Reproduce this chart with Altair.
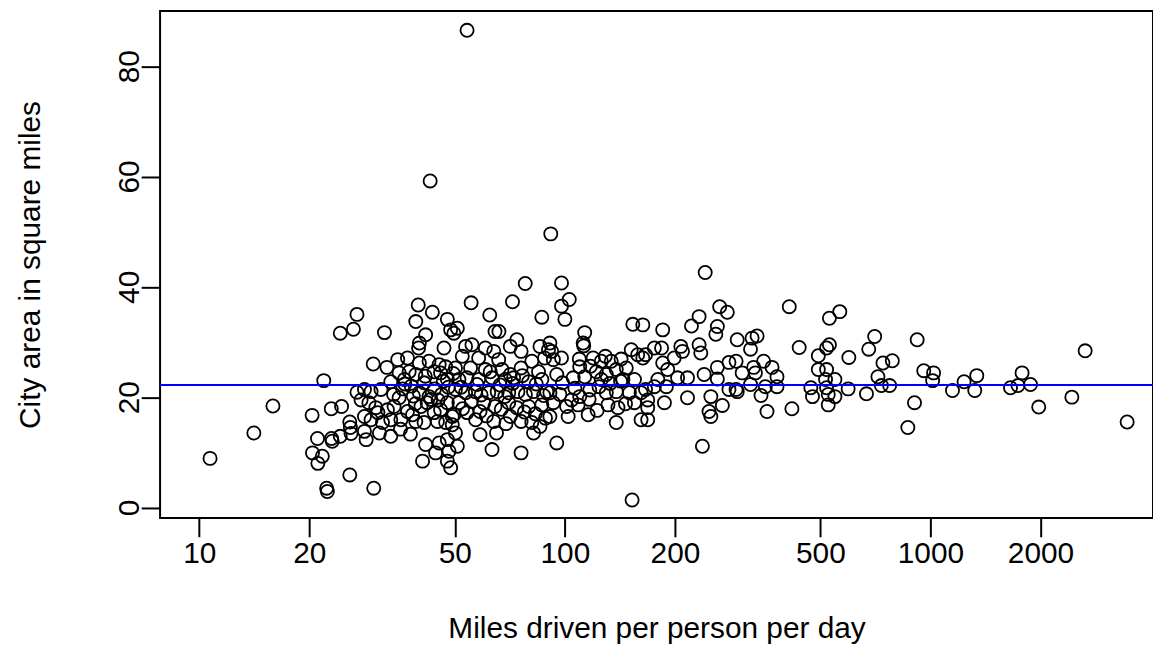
import altair as alt
import pandas as pd

# Miles driven per person per day (x) and city area in square miles (y)
miles = [
    10.7, 14.1, 15.9, 20.35, 21.9, 22.96, 24.5, 24.3, 26.4, 27.0, 27.0, 25.8, 25.9, 26.0, 24.3, 23.0,
    21.05, 23.1, 20.4, 21.7, 21.1, 25.8, 22.3, 22.4, 30.0,
    39.7, 43.4, 39.1, 47.7, 32.1, 41.6, 40.0, 39.8, 46.7, 48.7, 49.7, 29.9, 32.6, 34.9, 37.1, 40.0,
    42.5, 45.3, 47.2, 35.2, 37.5, 39.1, 43.9, 45.7, 33.4, 36.4, 41.2, 47.7, 28.3, 29.5, 31.4, 27.7,
    29.1, 30.4, 30.8, 32.7, 34.1, 35.2, 37.1, 38.3, 40.4, 42.5, 43.9, 45.7, 47.7, 49.2, 28.3, 29.5,
    31.7, 33.4, 35.6, 39.1, 41.2, 44.8, 47.2, 28.3, 28.6, 31.1, 33.4, 41.6, 45.3, 47.7, 44.3, 40.8,
    47.7, 48.7, 48.2,
    38.0, 44.0, 46.0, 40.0, 36.0, 42.0, 48.0, 34.0, 39.0, 45.0,
    77.9, 55.4, 71.9, 62.3, 86.5, 50.8, 64.4, 66.0, 73.9, 53.5, 55.7, 60.6, 63.9, 70.9, 75.9, 85.5,
    90.2, 52.4, 58.1, 65.9, 81.2, 88.0, 50.2, 55.2, 60.6, 67.3, 70.9, 75.9, 84.7, 51.3, 54.0, 58.1,
    63.2, 68.7, 72.4, 79.6, 86.5, 50.2, 53.5, 56.9, 61.9, 65.3, 70.2, 74.4, 82.1, 89.2, 51.3, 55.5,
    60.0, 64.4, 70.2, 73.9, 79.6, 86.5, 49.7, 54.0, 58.6, 63.9, 70.9, 75.9, 81.2, 85.5, 49.2, 50.2,
    58.6, 65.0, 82.1, 50.8, 63.2, 75.9,
    97.9, 102.8, 97.9, 100.0, 113.3, 112.2, 112.6, 153.4, 163.4, 91.0, 92.0, 97.9, 93.0, 109.8, 119.5,
    125.8, 133.9, 151.9, 158.2, 163.4, 95.0, 105.4, 113.3, 121.9, 129.8, 138.2, 147.2, 155.0, 125.8,
    144.1, 91.0, 96.9, 104.3, 109.8, 129.8, 138.2, 150.2, 161.6, 93.0, 101.1, 108.7, 131.2, 139.7,
    155.0, 91.0, 102.1, 115.8, 138.2, 161.6, 95.0,
    242.0, 265.1, 278.2, 232.9, 222.0, 261.3, 258.8, 185.2, 296.1, 175.7, 183.9, 207.6, 209.8, 232.9,
    235.4, 166.2, 199.1, 185.2, 281.1, 294.0, 191.1, 261.3, 240.4, 179.6, 203.4, 216.5, 261.3, 281.1,
    294.0, 166.2, 175.7, 189.5, 216.5, 250.8, 168.5, 187.2, 269.6, 168.5, 247.9, 250.8, 168.5, 237.8,
    411.0, 529.2, 565.0, 335.6, 325.2, 322.0, 437.5, 493.5, 519.9, 529.2, 598.1, 703.9, 678.0, 919.9,
    328.5, 349.7, 368.7, 305.5, 332.0, 380.4, 493.5, 519.9, 741.5, 786.5, 718.4, 958.8, 1020.0, 1014.0,
    322.0, 353.5, 380.4, 296.1, 516.5, 547.9, 470.8, 519.9, 595.5, 734.1, 773.3, 344.0, 475.7, 525.4,
    547.9, 668.3, 525.4, 357.2, 417.9, 904.5, 867.3,
    2650.0, 1149.0, 1236.0, 1339.0, 1322.0, 1656.0, 1736.0, 1781.0, 1878.0, 1978.0, 2437.0, 3452.0,
    54.0, 42.8, 91.5, 152.7,
    36.5, 38.5, 41.5, 43.0, 46.5, 49.5, 52.0, 57.5, 59.0, 62.5, 66.5, 68.5, 72.0, 76.5, 78.0, 83.5,
    87.5, 52.5, 57.0, 61.0, 67.0, 69.0, 77.5, 83.0, 88.5, 98.5, 106.5, 117.0, 124.0, 133.0, 142.0,
    116.5, 122.5, 146.5, 109.5, 117.5, 129.0, 142.5, 35.5, 37.8,
]
area = [
    8.9, 13.5, 18.4, 16.7, 23.0, 17.9, 18.3, 31.6, 32.3, 35.0, 20.9, 15.5, 14.5, 13.4, 12.9, 12.5,
    12.5, 12.0, 9.9, 9.3, 8.0, 5.9, 3.5, 2.9, 3.5,
    36.7, 35.4, 33.7, 34.1, 31.7, 31.3, 29.8, 28.9, 28.9, 32.2, 31.6, 26.0, 25.4, 26.8, 27.1, 26.2,
    26.5, 25.9, 25.5, 24.4, 24.6, 24.1, 24.6, 24.4, 22.8, 23.2, 22.6, 23.2, 21.4, 21.0, 21.4, 19.5,
    19.0, 18.1, 17.2, 17.7, 18.3, 19.9, 17.4, 16.8, 18.3, 20.1, 17.2, 17.7, 19.0, 16.5, 16.5, 15.9,
    15.4, 15.9, 15.9, 15.6, 15.4, 15.6, 15.4, 13.8, 12.3, 13.5, 12.9, 11.4, 11.7, 12.3, 9.9, 8.4,
    8.4, 7.2, 10.2,
    22.0, 21.5, 20.5, 20.8, 21.5, 19.0, 21.8, 20.5, 18.8, 19.5,
    40.6, 37.1, 37.3, 34.9, 34.5, 32.5, 31.9, 31.9, 30.4, 29.2, 29.5, 28.9, 28.3, 29.2, 28.3, 29.2,
    28.6, 27.4, 27.1, 26.8, 26.5, 27.1, 25.3, 25.3, 25.0, 25.0, 24.1, 25.3, 24.6, 23.2, 23.5, 23.2,
    23.5, 23.2, 23.5, 22.8, 23.2, 21.4, 20.8, 21.0, 20.8, 21.0, 20.8, 21.0, 21.0, 21.0, 19.0, 19.2,
    19.0, 18.3, 19.0, 18.1, 18.3, 18.6, 16.8, 17.2, 17.4, 15.6, 16.5, 15.6, 15.4, 14.7, 15.0, 13.5,
    13.2, 13.5, 13.5, 11.1, 10.5, 9.9,
    40.7, 37.7, 36.5, 34.1, 31.7, 29.8, 29.3, 33.2, 33.1, 29.8, 28.3, 27.1, 26.8, 25.5, 27.1,
    26.5, 26.5, 28.6, 27.7, 27.1, 24.1, 23.5, 23.7, 24.6, 24.1, 25.0, 25.3, 23.2, 23.2,
    23.2, 20.8, 20.5, 19.5, 20.1, 20.8, 21.0, 20.8, 20.8, 19.0, 18.3, 18.6, 18.6, 18.1,
    19.0, 16.5, 16.5, 16.8, 15.4, 15.9, 11.7,
    42.6, 36.4, 35.4, 34.6, 32.9, 32.8, 31.4, 32.2, 30.4, 28.9, 28.9, 29.2, 28.3, 29.5,
    28.0, 27.7, 27.1, 26.2, 26.3, 26.5, 25.0, 25.4, 24.1, 23.2, 23.5, 23.5, 23.3, 21.4,
    21.4, 21.4, 21.9, 21.9, 19.9, 20.1, 19.5, 19.0, 18.5, 18.1, 17.4, 16.5, 15.9, 11.1,
    36.4, 34.3, 35.5, 31.1, 30.7, 28.7, 29.0, 27.5, 28.9, 29.5, 27.2, 31.0, 28.7, 30.4,
    25.4, 26.5, 25.4, 24.4, 24.4, 23.7, 25.0, 25.0, 26.2, 26.6, 23.7, 24.8, 24.4, 23.0,
    22.3, 21.9, 21.9, 21.0, 23.2, 23.2, 21.7, 21.7, 21.5, 22.1, 22.1, 20.3, 20.1, 20.5,
    20.1, 20.6, 18.6, 17.4, 17.9, 19.0, 14.5,
    28.4, 21.2, 22.8, 23.9, 21.2, 21.7, 22.1, 24.4, 22.3, 18.2, 20.0, 15.5,
    86.5, 59.2, 49.6, 1.35,
    22.4, 20.2, 23.8, 19.6, 22.9, 24.3, 21.8, 22.3, 20.4, 24.6, 22.2, 20.1, 22.5, 23.9, 20.5, 22.4,
    20.3, 17.9, 15.9, 16.6, 17.8, 15.2, 17.3, 17.0, 16.2, 22.6, 21.6, 21.3, 21.9, 22.5, 22.9,
    19.6, 17.6, 18.8, 26.9, 25.6, 27.4, 26.9, 14.2, 13.3,
]

x_ticks = [10, 20, 50, 100, 200, 500, 1000, 2000]
y_ticks = [0, 20, 40, 60, 80]
mean_area = [22.2]

FONT = "Liberation Sans"
FS = 30

df = pd.DataFrame({"miles": miles, "area": area})
line_df = pd.DataFrame({"m": mean_area})

x_scale = alt.Scale(type="log", domain=[7.81, 4063], nice=False, zero=False)
y_scale = alt.Scale(domain=[-1.89, 90.0], nice=False, zero=False)

points = alt.Chart(df).mark_point(
    shape="circle", filled=False, color="black", strokeWidth=1.8, size=175, opacity=1
).encode(
    x=alt.X(
        "miles:Q",
        scale=x_scale,
        axis=alt.Axis(
            values=x_ticks, format="d", grid=False, domain=False,
            tickSize=19, tickWidth=2, tickColor="black",
            labelFont=FONT, labelFontSize=FS, labelColor="black", labelPadding=2,
            labelFlush=False, labelOverlap=False,
            title="Miles driven per person per day", titleFont=FONT, titleFontSize=FS,
            titleFontWeight="normal", titleColor="black", titlePadding=45,
        ),
    ),
    y=alt.Y(
        "area:Q",
        scale=y_scale,
        axis=alt.Axis(
            values=y_ticks, format="d", grid=False, domain=False,
            tickSize=19, tickWidth=2, tickColor="black",
            labelFont=FONT, labelFontSize=FS, labelColor="black", labelPadding=3,
            labelAngle=270, labelAlign="center", labelBaseline="alphabetic",
            labelFlush=False, labelOverlap=False,
            title="City area in square miles", titleFont=FONT, titleFontSize=FS,
            titleFontWeight="normal", titleColor="black", titlePadding=69,
        ),
    ),
)

hline = alt.Chart(line_df).mark_rule(color="#0000FF", strokeWidth=2).encode(y=alt.Y("m:Q", scale=y_scale))

chart = (
    alt.layer(points, hline)
    .properties(
        width=999, height=510,
        autosize=alt.AutoSizeParams(type="none"),
        padding={"left": 153, "top": 1, "right": 0, "bottom": 150},
        background="white",
    )
    .configure_view(stroke="black", strokeWidth=2)
)

chart.save("out.html", embed_options={"renderer": "svg", "actions": False})
